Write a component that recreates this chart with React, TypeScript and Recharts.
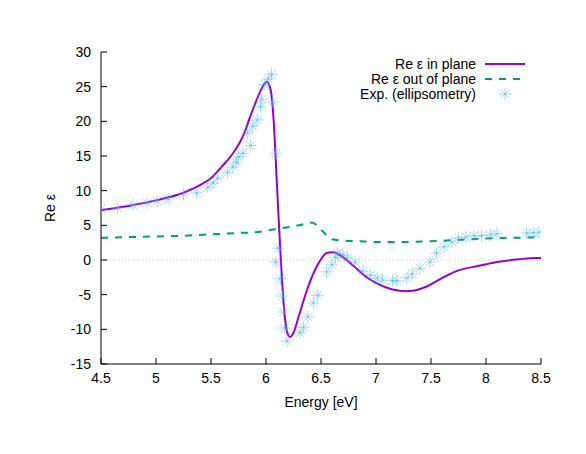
import React from "react";
import {
  ComposedChart,
  Line,
  Scatter,
  XAxis,
  YAxis,
  ReferenceLine,
  Legend,
} from "recharts";

const xTicks = [4.5, 5, 5.5, 6, 6.5, 7, 7.5, 8, 8.5];
const yTicks = [-15, -10, -5, 0, 5, 10, 15, 20, 25, 30];

const inPlaneE = [4.5, 4.75, 5.0, 5.25, 5.4, 5.5, 5.6, 5.7, 5.8, 5.85, 5.9, 5.95, 5.99, 6.01, 6.03, 6.05, 6.07, 6.09, 6.11, 6.13, 6.15, 6.17, 6.2, 6.22, 6.25, 6.3, 6.38, 6.45, 6.5, 6.55, 6.6, 6.65, 6.7, 6.8, 6.9, 7.0, 7.1, 7.2, 7.27, 7.35, 7.45, 7.6, 7.75, 7.95, 8.1, 8.3, 8.45, 8.5];
const inPlaneRe = [7.2, 7.8, 8.6, 9.7, 10.8, 11.8, 13.5, 15.4, 18.2, 20.4, 22.5, 24.4, 25.5, 25.7, 25.2, 23.8, 20, 14, 7.5, 1.5, -4, -8, -10.8, -11.1, -10.5, -8, -4, -1.3, 0.1, 1.0, 1.1, 0.9, 0.4, -0.9, -2.3, -3.3, -4.0, -4.4, -4.5, -4.4, -3.9, -2.6, -1.5, -0.8, -0.3, 0.1, 0.3, 0.3];

const outPlaneE = [4.5, 4.75, 5.0, 5.25, 5.5, 5.75, 5.9, 6.1, 6.3, 6.42, 6.47, 6.53, 6.6, 6.7, 6.85, 7.0, 7.25, 7.5, 7.75, 8.0, 8.25, 8.5];
const outPlaneRe = [3.2, 3.3, 3.4, 3.5, 3.7, 3.9, 4.0, 4.5, 5.0, 5.4, 4.9, 3.9, 3.0, 2.8, 2.7, 2.6, 2.6, 2.7, 2.9, 3.1, 3.2, 3.3];

const expE = [4.5, 4.65, 4.79, 4.92, 5.01, 5.11, 5.25, 5.37, 5.47, 5.52, 5.56, 5.65, 5.7, 5.73, 5.75, 5.79, 5.86, 5.83, 5.88, 5.92, 5.95, 5.96, 5.99, 6.02, 6.05, 6.06, 6.09, 6.11, 6.09, 6.13, 6.15, 6.16, 6.17, 6.19, 6.31, 6.34, 6.38, 6.43, 6.47, 6.55, 6.6, 6.63, 6.65, 6.7, 6.74, 6.81, 6.88, 6.95, 7.01, 7.06, 7.15, 7.19, 7.28, 7.33, 7.4, 7.49, 7.55, 7.62, 7.69, 7.75, 7.82, 7.89, 7.96, 8.04, 8.1, 8.37, 8.43, 8.48];
const expRe = [7.36, 7.5, 7.94, 8.23, 8.51, 8.8, 9.52, 9.67, 10.5, 11.1, 11.8, 12.6, 13.4, 14.1, 14.9, 15.4, 16.5, 18.3, 19.3, 20.2, 22.1, 23.2, 25.3, 26.1, 26.8, 22.8, 15.4, 1.7, -0.3, -2.7, -5.2, -7.5, -9.8, -11.7, -10.5, -9.7, -8.2, -6.2, -5.1, -1.7, -0.7, 0.4, 1.0, 0.7, 0.3, -0.3, -1.6, -2.2, -2.6, -2.9, -3.0, -3.0, -2.6, -2.0, -1.2, -0.3, 1.0, 1.9, 2.6, 3.2, 3.3, 3.5, 3.5, 3.6, 3.8, 3.9, 3.9, 4.0];

const seriesNames = ["Re ε in plane", "Re ε out of plane", "Exp. (ellipsometry)"];
const seriesColors = ["#9400d3", "#009e73", "#56b4e9"];

const inPlaneData = inPlaneE.map((x, i) => ({ x, y: inPlaneRe[i] }));
const outPlaneData = outPlaneE.map((x, i) => ({ x, y: outPlaneRe[i] }));
const expData = expE.map((x, i) => ({ x, y: expRe[i] }));

const FONT = "'Liberation Sans', Arial, Helvetica, sans-serif";
const TICK = 6;

const Star = ({ cx, cy, r = 6 }: any) => {
  const d = r * 0.72;
  return (
    <g stroke={seriesColors[2]} strokeOpacity={0.55} strokeWidth={1} fill="none">
      <line x1={cx - r} y1={cy} x2={cx + r} y2={cy} />
      <line x1={cx} y1={cy - r} x2={cx} y2={cy + r} />
      <line x1={cx - d} y1={cy - d} x2={cx + d} y2={cy + d} />
      <line x1={cx - d} y1={cy + d} x2={cx + d} y2={cy - d} />
    </g>
  );
};

const BottomTick = ({ x, y, payload }: any) => (
  <g>
    <line x1={x} y1={y} x2={x} y2={y - TICK} stroke="#000" />
    <text x={x} y={y + 19} textAnchor="middle" fontSize={14} fontFamily={FONT} fill="#000">
      {String(payload.value)}
    </text>
  </g>
);
const TopTick = ({ x, y }: any) => (
  <line x1={x} y1={y} x2={x} y2={y + TICK} stroke="#000" />
);
const LeftTick = ({ x, y, payload }: any) => (
  <g>
    <line x1={x} y1={y} x2={x + TICK} y2={y} stroke="#000" />
    <text x={x - 10} y={y + 5} textAnchor="end" fontSize={14} fontFamily={FONT} fill="#000">
      {String(payload.value)}
    </text>
  </g>
);
const RightTick = ({ x, y }: any) => (
  <line x1={x} y1={y} x2={x - TICK} y2={y} stroke="#000" />
);

const LegendContent = () => {
  const textX = 468;
  const lineX1 = 477;
  const lineX2 = 517;
  const rows = [56, 71, 86];
  return (
    <svg width={578} height={100} style={{ display: "block" }}>
      {seriesNames.map((n, i) => (
        <g key={n}>
          <text x={textX} y={rows[i] + 5} textAnchor="end" fontSize={14} fontFamily={FONT} fill="#000">
            {n}
          </text>
          {i === 0 && (
            <line x1={lineX1} y1={rows[i]} x2={lineX2} y2={rows[i]} stroke={seriesColors[0]} strokeWidth={2} />
          )}
          {i === 1 && (
            <line x1={lineX1} y1={rows[i]} x2={lineX2} y2={rows[i]} stroke={seriesColors[1]} strokeWidth={2} strokeDasharray="7 7" />
          )}
          {i === 2 && <Star cx={(lineX1 + lineX2) / 2} cy={rows[i]} />}
        </g>
      ))}
    </svg>
  );
};

export default function App() {
  return (
    <div style={{ width: 578, height: 438, background: "#fff" }}>
      <ComposedChart
        width={578}
        height={438}
        margin={{ top: 44, right: 45, left: 0, bottom: 0 }}
      >
        <XAxis
          dataKey="x"
          type="number"
          domain={[4.5, 8.5]}
          ticks={xTicks}
          allowDataOverflow
          height={82}
          tickSize={0}
          tickMargin={0}
          tickLine={false}
          axisLine={{ stroke: "#000" }}
          tick={<BottomTick />}
          interval={0}
          label={{
            content: ({ viewBox }: any) => (
              <text
                x={viewBox.x + viewBox.width / 2}
                y={viewBox.y + 43}
                textAnchor="middle"
                fontSize={14}
                fontFamily={FONT}
                fill="#000"
              >
                Energy [eV]
              </text>
            ),
          }}
        />
        <XAxis
          xAxisId="top"
          orientation="top"
          dataKey="x"
          type="number"
          domain={[4.5, 8.5]}
          ticks={xTicks}
          allowDataOverflow
          height={0}
          tickSize={0}
          tickMargin={0}
          tickLine={false}
          axisLine={{ stroke: "#000" }}
          tick={<TopTick />}
          interval={0}
        />
        <YAxis
          type="number"
          domain={[-15, 30]}
          ticks={yTicks}
          allowDataOverflow
          width={93}
          tickSize={0}
          tickMargin={0}
          tickLine={false}
          axisLine={{ stroke: "#000" }}
          tick={<LeftTick />}
          interval={0}
          label={{
            content: ({ viewBox }: any) => {
              const cx = viewBox.x + 42;
              const cy = viewBox.y + viewBox.height / 2;
              return (
                <text
                  x={cx}
                  y={cy}
                  transform={`rotate(-90 ${cx} ${cy})`}
                  textAnchor="middle"
                  dominantBaseline="central"
                  fontSize={14}
                  fontFamily={FONT}
                  fill="#000"
                >
                  Re ε
                </text>
              );
            },
          }}
        />
        <YAxis
          yAxisId="right"
          orientation="right"
          type="number"
          domain={[-15, 30]}
          ticks={yTicks}
          allowDataOverflow
          width={0}
          tickSize={0}
          tickMargin={0}
          tickLine={false}
          axisLine={{ stroke: "#000" }}
          tick={<RightTick />}
          interval={0}
        />
        <ReferenceLine y={0} stroke="#c8c8c8" strokeDasharray="1 2" strokeWidth={1} />
        <Scatter
          data={expData}
          dataKey="y"
          isAnimationActive={false}
          shape={(p: any) => <Star cx={p.cx} cy={p.cy} />}
        />
        <Line
          data={outPlaneData}
          dataKey="y"
          type="monotone"
          stroke={seriesColors[1]}
          strokeWidth={2}
          strokeDasharray="7 7"
          dot={false}
          activeDot={false}
          isAnimationActive={false}
        />
        <Line
          data={inPlaneData}
          dataKey="y"
          type="monotone"
          stroke={seriesColors[0]}
          strokeWidth={2}
          dot={false}
          activeDot={false}
          isAnimationActive={false}
        />
        <Legend
          layout="horizontal"
          verticalAlign="middle"
          align="center"
          wrapperStyle={{ left: 0, top: 0, width: 578 }}
          content={<LegendContent />}
        />
      </ComposedChart>
    </div>
  );
}
